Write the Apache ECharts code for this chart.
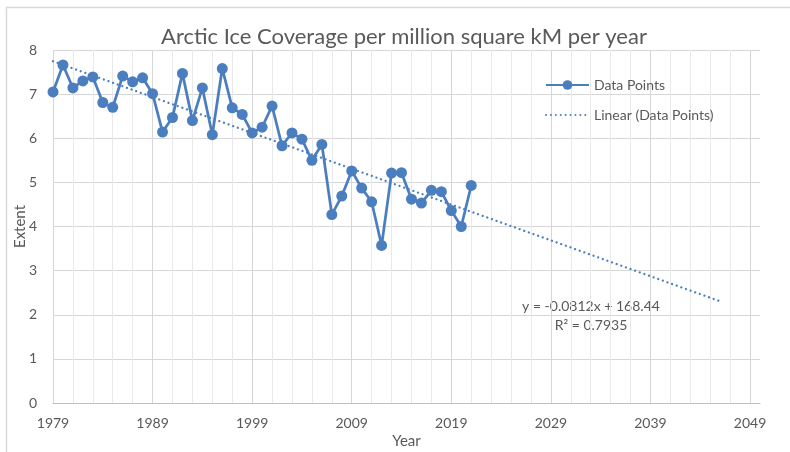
<!DOCTYPE html>
<html>
<head>
<meta charset="utf-8">
<script src="https://cdn.jsdelivr.net/npm/echarts@6/dist/echarts.min.js"></script>
<style>
  html, body { margin: 0; padding: 0; background: #ffffff; }
  #chart { width: 790px; height: 452px; }
</style>
</head>
<body>
<div id="chart"></div>
<script>
// September Arctic sea-ice extent (million km²), 1979–2021
const years = [
  1979, 1980, 1981, 1982, 1983, 1984, 1985, 1986, 1987, 1988,
  1989, 1990, 1991, 1992, 1993, 1994, 1995, 1996, 1997, 1998,
  1999, 2000, 2001, 2002, 2003, 2004, 2005, 2006, 2007, 2008,
  2009, 2010, 2011, 2012, 2013, 2014, 2015, 2016, 2017, 2018,
  2019, 2020, 2021
];
const extent = [
  7.05, 7.66, 7.14, 7.30, 7.39, 6.81, 6.70, 7.41, 7.28, 7.37,
  7.01, 6.14, 6.47, 7.47, 6.40, 7.14, 6.08, 7.58, 6.69, 6.54,
  6.12, 6.25, 6.73, 5.83, 6.12, 5.98, 5.50, 5.86, 4.27, 4.69,
  5.26, 4.87, 4.56, 3.57, 5.21, 5.22, 4.62, 4.53, 4.82, 4.79,
  4.36, 4.00, 4.93
];

// Least-squares trend as reported on the chart, projected forward
const trendSlope = -0.0812;
const trendIntercept = 168.44;
const trendRSquared = 0.7935;
const trendYears = [1979, 2046];

// Axis ranges and tick labels
const xRange = [1979, 2050];
const xTickLabels = ['1979', '1989', '1999', '2009', '2019', '2029', '2039', '2049'];
const yRange = [0, 8];

const TEXT = '#595959';
const BLUE = '#4a7ebf';
const FONT = 'Lato';

const dataPoints = years.map((yr, i) => [yr, extent[i]]);
const trendPoints = trendYears.map(yr => [yr, trendSlope * yr + trendIntercept]);

// every 2nd year gets a light line, every 10th a darker one
const MAJOR = '#d6d6d6';
const MINOR = '#e9e9e9';
const NONE = 'rgba(0,0,0,0)';
const vLineColors = [MAJOR, NONE, MINOR, NONE, MINOR, NONE, MINOR, NONE, MINOR, NONE];

const chart = echarts.init(document.getElementById('chart'), null, { renderer: 'canvas' });

chart.setOption({
  animation: false,
  textStyle: { fontFamily: FONT },
  grid: { left: 53, right: 30, top: 50, bottom: 49, containLabel: false, outerBoundsMode: 'none' },
  legend: {
    orient: 'vertical',
    left: 540,
    top: 73,
    itemWidth: 43,
    itemHeight: 12,
    itemGap: 16,
    textStyle: { color: TEXT, fontSize: 14, fontFamily: FONT },
    data: [
      { name: 'Data Points' },
      { name: 'Linear (Data Points)', itemStyle: { opacity: 0 } }
    ]
  },
  xAxis: {
    type: 'value',
    min: xRange[0],
    max: xRange[1],
    interval: 1,
    name: 'Year',
    nameLocation: 'middle',
    nameGap: 31,
    nameMoveOverlap: false,
    nameTextStyle: { color: TEXT, fontSize: 15, fontFamily: FONT },
    axisLine: { show: true, lineStyle: { color: '#bfbfbf', width: 1.2 } },
    axisTick: { show: false },
    axisLabel: {
      color: TEXT,
      fontSize: 14,
      margin: 13,
      fontFamily: FONT,
      formatter: v => {
        const s = String(Math.round(v));
        return xTickLabels.includes(s) ? s : '';
      }
    },
    splitLine: {
      show: true,
      showMaxLine: false,
      lineStyle: { color: vLineColors, width: 1 }
    }
  },
  yAxis: {
    type: 'value',
    min: yRange[0],
    max: yRange[1],
    interval: 1,
    name: 'Extent',
    nameLocation: 'middle',
    nameRotate: 90,
    nameGap: 25,
    nameMoveOverlap: false,
    nameTextStyle: { color: TEXT, fontSize: 15, fontFamily: FONT },
    axisLine: { show: false },
    axisTick: { show: false },
    axisLabel: { color: TEXT, fontSize: 14, margin: 16, fontFamily: FONT },
    splitLine: { show: true, lineStyle: { color: MAJOR, width: 1 } }
  },
  series: [
    {
      name: 'Linear (Data Points)',
      type: 'line',
      data: trendPoints,
      symbol: 'none',
      z: 3,
      lineStyle: { color: BLUE, width: 2.3, type: [0.01, 4.9], cap: 'round' },
      itemStyle: { color: BLUE },
      silent: true
    },
    {
      name: 'Data Points',
      type: 'line',
      data: dataPoints,
      symbol: 'circle',
      symbolSize: 11,
      z: 4,
      lineStyle: { color: BLUE, width: 2.75 },
      itemStyle: { color: BLUE, borderWidth: 0 }
    }
  ],
  graphic: [
    {
      type: 'rect',
      silent: true,
      shape: { x: 6.5, y: 7.5, width: 800, height: 460 },
      style: { fill: 'none', stroke: '#d9d9d9', lineWidth: 1.5 }
    },
    {
      type: 'text',
      silent: true,
      x: 404,
      y: 37,
      style: {
        text: 'Arctic Ice Coverage per million square kM per year',
        fill: TEXT,
        font: '22px ' + FONT,
        align: 'center',
        verticalAlign: 'middle'
      }
    },
    {
      type: 'text',
      silent: true,
      x: 591,
      y: 297,
      style: {
        text: 'y = ' + trendSlope.toFixed(4) + 'x + ' + trendIntercept.toFixed(2) + '\nR² = ' + trendRSquared.toFixed(4),
        fill: TEXT,
        font: '14px ' + FONT,
        lineHeight: 19,
        align: 'center',
        verticalAlign: 'top'
      }
    }
  ]
});
</script>
</body>
</html>
